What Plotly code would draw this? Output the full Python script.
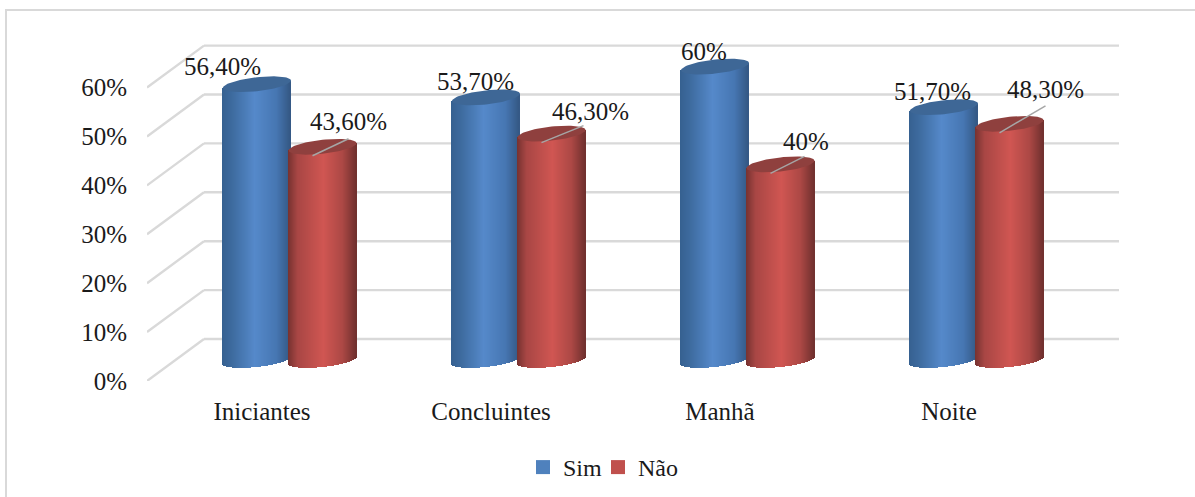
import math
import plotly.graph_objects as go

# Survey results per group
categories = ["Iniciantes", "Concluintes", "Manhã", "Noite"]
sim_values = [56.4, 53.7, 60.0, 51.7]
nao_values = [43.6, 46.3, 40.0, 48.3]
sim_labels = ["56,40%", "53,70%", "60%", "51,70%"]
nao_labels = ["43,60%", "46,30%", "40%", "48,30%"]
y_ticks = [0, 10, 20, 30, 40, 50, 60]

# Figure layout in pixels
WIDTH, HEIGHT = 1195, 497
PLOT_L, PLOT_R, PLOT_T, PLOT_B = 147, 1125, 30, 381
PX_X = 229.0          # pixels per category
PX_Y = 4.89           # pixels per percentage point
X0_PX = 262.0         # pixel position of the first category on the front plane
FONT = "Liberation Serif"
FONT_SIZE = 25
GRID = "#D9D9D9"
TEXT = "#1A1A1A"


def ux(px):
    return px / PX_X


def uy(px):
    return px / PX_Y


# Depth of the floor: offset from the front edge to the centre plane and back wall
MID_Y = uy(21)
BACK_X, BACK_Y = ux(57), uy(42)
WALL_END = ux(1119 - X0_PX)

# Cylinder geometry
RADIUS = ux(34.0)
RIM = uy(7.0)
TILT = uy(3.6)
STRIP = ux(1.0)
N_STRIPS = 68
SIM_SHIFT = ux(-5)
NAO_SHIFT = ux(60.5)

SIM_RAMP = [(0.0, (54, 96, 144)), (0.16, (62, 108, 160)), (0.48, (85, 137, 202)),
            (0.8, (70, 118, 178)), (1.0, (52, 88, 132))]
NAO_RAMP = [(0.0, (118, 50, 48)), (0.14, (168, 70, 68)), (0.52, (208, 86, 82)),
            (0.8, (172, 72, 69)), (1.0, (112, 48, 46))]
SIM_TOP = "#3E6796"
NAO_TOP = "#8F403E"


def ramp_colour(ramp, t):
    for (a, ca), (b, cb) in zip(ramp, ramp[1:]):
        if t <= b:
            f = (t - a) / (b - a)
            r, g, bl = (round(p + (q - p) * f) for p, q in zip(ca, cb))
            return f"rgb({r},{g},{bl})"
    return "rgb(%d,%d,%d)" % ramp[-1][1]


def add_cylinder(fig, centre, value, ramp, top_colour):
    # Body: a fan of one-pixel bars whose feet trace the lower rim
    xs, heights, bases, colours = [], [], [], []
    for i in range(N_STRIPS):
        t = (i + 0.5) / N_STRIPS
        u = 2 * t - 1
        sag = RIM * math.sqrt(1 - u * u)
        xs.append(centre + u * RADIUS)
        bases.append(MID_Y + TILT * u - sag)
        heights.append(value + sag)
        colours.append(ramp_colour(ramp, t))
    fig.add_trace(go.Bar(x=xs, y=heights, base=bases, width=STRIP * 1.4,
                         marker=dict(color=colours, line=dict(width=0)),
                         showlegend=False, hoverinfo="skip"))
    # Lid: a sheared ellipse at the height of the value
    ex, ey = [], []
    for k in range(73):
        a = 2 * math.pi * k / 72
        ex.append(centre + RADIUS * math.cos(a))
        ey.append(MID_Y + value + TILT * math.cos(a) + RIM * math.sin(a))
    fig.add_trace(go.Scatter(x=ex, y=ey, mode="lines", fill="toself", fillcolor=top_colour,
                             line=dict(width=0, color=top_colour),
                             showlegend=False, hoverinfo="skip"))


fig = go.Figure()

# Floor diagonals and back-wall gridlines sit beneath every trace
x_left = ux(PLOT_L - X0_PX)
for tick in y_ticks:
    line = dict(color=GRID, width=2.4)
    fig.add_shape(type="line", xref="x", yref="y", layer="below", line=line,
                  x0=x_left, y0=tick, x1=x_left + BACK_X, y1=tick + BACK_Y)
    fig.add_shape(type="line", xref="x", yref="y", layer="below", line=line,
                  x0=x_left + BACK_X, y0=tick + BACK_Y, x1=WALL_END, y1=tick + BACK_Y)

for idx, (sim, nao) in enumerate(zip(sim_values, nao_values)):
    add_cylinder(fig, idx + SIM_SHIFT, sim, SIM_RAMP, SIM_TOP)
    add_cylinder(fig, idx + NAO_SHIFT, nao, NAO_RAMP, NAO_TOP)

# Leader lines from the red lids to their labels
NAO_LEADER_END = [(ux(26), uy(17)), (ux(32), uy(17)), (ux(24), uy(17)), (ux(36), uy(27))]
for idx, nao in enumerate(nao_values):
    sx = idx + NAO_SHIFT - ux(10)
    sy = MID_Y + nao - uy(9)
    dx, dy = NAO_LEADER_END[idx]
    fig.add_trace(go.Scatter(x=[sx, idx + NAO_SHIFT + dx], y=[sy, sy + dy],
                             mode="lines", line=dict(color="#A6A6A6", width=1.5),
                             showlegend=False, hoverinfo="skip"))

# Value labels, nudged away from their cylinders
SIM_OFFSET = [(-35, -18), (-11, -16), (-11, -15), (-12, -16)]
NAO_OFFSET = [(26, -25), (39, -22), (25, -23), (36, -34)]
for idx in range(len(categories)):
    for cx, val, text, (ox, oy) in (
        (idx + SIM_SHIFT, sim_values[idx], sim_labels[idx], SIM_OFFSET[idx]),
        (idx + NAO_SHIFT, nao_values[idx], nao_labels[idx], NAO_OFFSET[idx]),
    ):
        fig.add_annotation(x=cx, y=MID_Y + val, text=text, showarrow=False,
                           xshift=ox, yshift=-oy,
                           font=dict(family=FONT, size=FONT_SIZE, color=TEXT))

# Legend keys; the blank third entry only widens the legend box so "Não" is not cut off
fig.add_trace(go.Scatter(x=[None], y=[None], name="Sim", mode="markers",
                         marker=dict(symbol="square", size=14, color="#4F81BD")))
fig.add_trace(go.Scatter(x=[None], y=[None], name="Não", mode="markers",
                         marker=dict(symbol="square", size=14, color="#C0504D")))
fig.add_trace(go.Scatter(x=[None], y=[None], name="\u00a0", mode="markers",
                         marker=dict(symbol="square", size=14, color="rgba(0,0,0,0)")))

# The paper runs to the bottom of the page; the y axis takes only its upper part,
# leaving the legend inside the paper area
paper_w = PLOT_R - PLOT_L
paper_h = HEIGHT - PLOT_T


def paper_x(px):
    return (px - PLOT_L) / paper_w


def paper_y(py):
    return (HEIGHT - py) / paper_h


# Chart frame: only the top and left edges are visible
frame = dict(color=GRID, width=2)
fig.add_shape(type="line", xref="paper", yref="paper", line=frame, layer="below",
              x0=paper_x(5), x1=paper_x(WIDTH), y0=paper_y(10), y1=paper_y(10))
fig.add_shape(type="line", xref="paper", yref="paper", line=frame, layer="below",
              x0=paper_x(6), x1=paper_x(6), y0=paper_y(10), y1=paper_y(HEIGHT))

fig.update_layout(
    width=WIDTH, height=HEIGHT,
    margin=dict(l=PLOT_L, r=WIDTH - PLOT_R, t=PLOT_T, b=0, pad=0, autoexpand=False),
    paper_bgcolor="white", plot_bgcolor="rgba(0,0,0,0)",
    barmode="overlay", bargap=0,
    font=dict(family=FONT, size=FONT_SIZE, color=TEXT),
    xaxis=dict(range=[x_left, ux(PLOT_R - X0_PX)], tickmode="array",
               tickvals=list(range(len(categories))), ticktext=categories,
               showgrid=False, zeroline=False, showline=False,
               ticks="outside", ticklen=8, tickcolor="rgba(0,0,0,0)"),
    yaxis=dict(domain=[paper_y(PLOT_B), 1], range=[0, uy(PLOT_B - PLOT_T)],
               tickmode="array", tickvals=y_ticks,
               ticktext=[f"{t}%" for t in y_ticks], showgrid=False, zeroline=False,
               showline=False, ticks="outside", ticklen=14, tickcolor="rgba(0,0,0,0)"),
    legend=dict(orientation="h", xanchor="left", yanchor="bottom",
                x=paper_x(523), y=paper_y(490), entrywidth=30, entrywidthmode="pixels",
                font=dict(family=FONT, size=24, color=TEXT), itemwidth=30,
                bgcolor="rgba(0,0,0,0)"),
)

fig.write_html("out.html")
